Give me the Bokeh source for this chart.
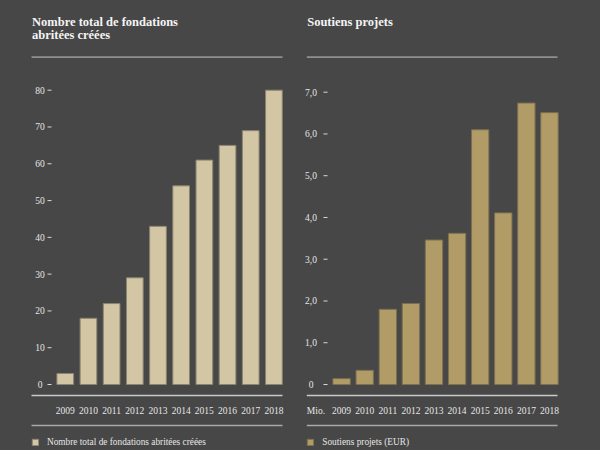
from bokeh.plotting import figure
from bokeh.layouts import row
from bokeh.models import FactorRange, Range1d, Legend, LegendItem, ColumnDataSource
from bokeh.core.properties import value
from bokeh.embed import file_html
from bokeh.resources import INLINE

# ---------------- data ----------------
years = ["2009", "2010", "2011", "2012", "2013", "2014", "2015", "2016", "2017", "2018"]
fondations = [3, 18, 22, 29, 43, 54, 61, 65, 69, 80]
soutiens = [0.14, 0.34, 1.80, 1.94, 3.46, 3.62, 6.10, 4.11, 6.74, 6.51]

left_ticks = [0, 10, 20, 30, 40, 50, 60, 70, 80]
left_tick_labels = ["0", "10", "20", "30", "40", "50", "60", "70", "80"]
right_ticks = [0, 1, 2, 3, 4, 5, 6, 7]
right_tick_labels = ["0", "1,0", "2,0", "3,0", "4,0", "5,0", "6,0", "7,0"]

title_left = ["Nombre total de fondations", "abritées créées"]
title_right = ["Soutiens projets"]
legend_left = "Nombre total de fondations abritées créées"
legend_right = "Soutiens projets (EUR)"
unit_right = "Mio."

# ---------------- style ----------------
BG = "#474747"
FONT = value("Liberation Serif")
TXT = "#e6e6e6"
TITLE_TXT = "#f4f4f4"
W, H = 300, 450


def panel(win_x0, frame_left, frame_w, pad, zero_wy, top_wy, top_val, values, fill, edge,
          bar_w, ticks, tick_labels, tick_cx, tick_x0, tick_x1, titles, title_x,
          rule_x0, rule_x1, legend_label, legend_sq_x, unit=None):
    mbl = frame_left - win_x0
    mbr = W - mbl - frame_w
    scale = (zero_wy - top_wy) / top_val
    y_start = -(H - zero_wy) / scale
    y_end = zero_wy / scale
    factors = ["axe"] + years
    p = figure(width=W, height=H,
               x_range=FactorRange(factors=factors, range_padding=pad,
                                   range_padding_units="absolute"),
               y_range=Range1d(y_start, y_end),
               x_axis_location=None, y_axis_location=None,
               output_backend="svg", toolbar_location=None,
               min_border_left=mbl, min_border_right=mbr,
               min_border_top=0, min_border_bottom=0,
               styles={"background-color": BG})
    p.background_fill_color = BG
    p.border_fill_color = BG
    p.outline_line_color = None
    p.xgrid.visible = False
    p.ygrid.visible = False

    pitch = frame_w / (11.0 + 2 * pad)

    def sx(wx):
        return (wx - frame_left) / pitch - pad

    def sy(wy):
        return (zero_wy - wy) / scale

    # titles
    for i, t in enumerate(titles):
        p.text(x=[sx(title_x)], y=[sy(21 + i * 13.7)], text=[t],
               text_font=FONT, text_font_size=value("12.5px"), text_font_style="bold",
               text_color=TITLE_TXT, text_align="left", text_baseline="alphabetic")
    # title rule
    p.segment(x0=[sx(rule_x0)], y0=[sy(56.7)], x1=[sx(rule_x1)], y1=[sy(56.7)],
              line_color="#8f8f8f", line_width=1.7)

    # y tick labels + tick marks
    p.text(x=[sx(tick_cx)] * len(ticks), y=ticks, text=tick_labels,
           text_font=FONT, text_font_size=value("9.5px"), text_color=TXT,
           text_align="center", text_baseline="middle")
    p.segment(x0=[sx(tick_x0)] * len(ticks), y0=ticks,
              x1=[sx(tick_x1)] * len(ticks), y1=ticks,
              line_color="#d8d8d8", line_width=1)

    # bars
    src = ColumnDataSource(dict(x=years, top=values))
    bars = p.vbar(x="x", top="top", bottom=0, width=bar_w, source=src,
                  fill_color=fill, line_color=edge, line_width=1)

    # axis line, year labels, lower rule
    p.segment(x0=[sx(rule_x0)], y0=[sy(395)], x1=[sx(rule_x1)], y1=[sy(395)],
              line_color="#c9c9c9", line_width=1.3)
    p.text(x=years, y=[sy(410)] * len(years), text=years,
           text_font=FONT, text_font_size=value("9.5px"), text_color=TXT,
           text_align="center", text_baseline="middle")
    if unit:
        p.text(x=[sx(rule_x0)], y=[sy(410)], text=[unit],
               text_font=FONT, text_font_size=value("9.5px"), text_color=TXT,
               text_align="left", text_baseline="middle")
    p.segment(x0=[sx(rule_x0)], y0=[sy(425)], x1=[sx(rule_x1)], y1=[sy(425)],
              line_color="#a9a9a9", line_width=1.3)

    # legend
    leg = Legend(items=[LegendItem(label=legend_label, renderers=[bars])],
                 location=(legend_sq_x - frame_left, 3.5),
                 glyph_width=8, glyph_height=8, label_height=8, label_standoff=8,
                 padding=0, margin=0, spacing=0,
                 border_line_color=None, background_fill_alpha=0,
                 label_text_font="Liberation Serif", label_text_font_size="9.3px",
                 label_text_color=TXT)
    p.add_layout(leg)
    return p


left = panel(win_x0=0, frame_left=30, frame_w=255, pad=0.0, zero_wy=384, top_wy=89.7,
             top_val=80, values=fondations, fill="#d3c6a5", edge="#8b8470", bar_w=0.72,
             ticks=left_ticks, tick_labels=left_tick_labels, tick_cx=39.5,
             tick_x0=47, tick_x1=51, titles=title_left, title_x=31.5,
             rule_x0=31, rule_x1=282, legend_label=legend_left, legend_sq_x=31)

right = panel(win_x0=300, frame_left=303, frame_w=261, pad=0.15, zero_wy=384, top_wy=91.7,
              top_val=7, values=soutiens, fill="#b19c67", edge="#7d704e", bar_w=0.75,
              ticks=right_ticks, tick_labels=right_tick_labels, tick_cx=310.5,
              tick_x0=323, tick_x1=327, titles=title_right, title_x=306.7,
              rule_x0=306.3, rule_x1=557, legend_label=legend_right, legend_sq_x=306.3,
              unit=unit_right)

layout = row(left, right, styles={"background-color": BG})
open("out.html", "w").write(file_html(layout, INLINE))
